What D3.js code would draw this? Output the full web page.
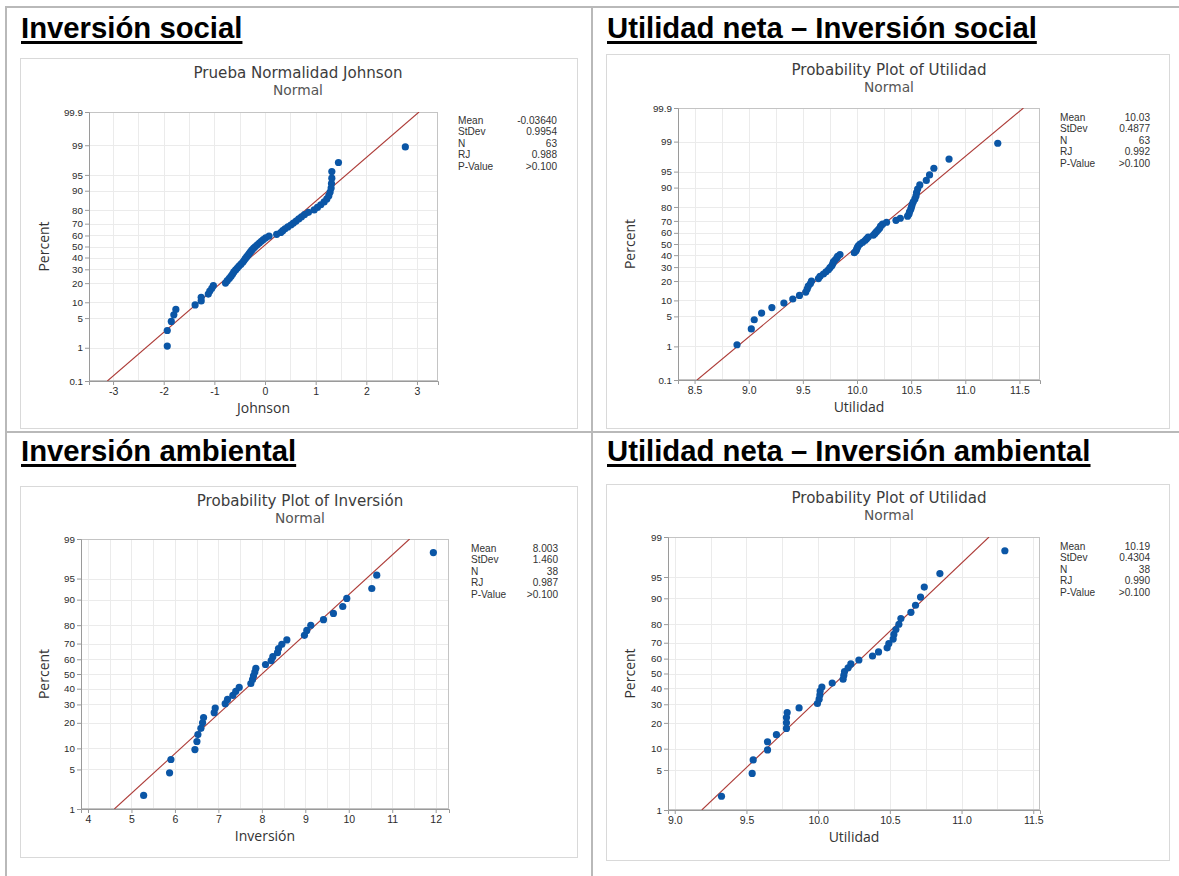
<!DOCTYPE html>
<html>
<head>
<meta charset="utf-8">
<script src="https://cdn.jsdelivr.net/npm/d3@7"></script>
<style>
  body { margin: 0; background: #fff; }
  svg { display: block; }
</style>
</head>
<body>
<svg id="fig" width="1179" height="876"></svg>
<script>
// ---- text ----
const sectionTitles = ["Inversión social", "Utilidad neta – Inversión social", "Inversión ambiental", "Utilidad neta – Inversión ambiental"];
const chartTitles = ["Prueba Normalidad Johnson", "Probability Plot of Utilidad", "Probability Plot of Inversión", "Probability Plot of Utilidad"];
const distributionName = "Normal";
const xAxisLabels = ["Johnson", "Utilidad", "Inversión", "Utilidad"];
const yAxisLabel = "Percent";

// ---- summary statistics shown beside each plot ----
const statLabels = ["Mean", "StDev", "N", "RJ", "P-Value"];
const statsJohnson = ["-0.03640", "0.9954", "63", "0.988", ">0.100"];
const statsUtilidadSocial = ["10.03", "0.4877", "63", "0.992", ">0.100"];
const statsInversion = ["8.003", "1.460", "38", "0.987", ">0.100"];
const statsUtilidadAmbiental = ["10.19", "0.4304", "38", "0.990", ">0.100"];

// ---- tick labels ----
const percentTicksFull = [0.1, 1, 5, 10, 20, 30, 40, 50, 60, 70, 80, 90, 95, 99, 99.9];
const percentTicksShort = [1, 5, 10, 20, 30, 40, 50, 60, 70, 80, 90, 95, 99];
const xTicksJohnson = [-3, -2, -1, 0, 1, 2, 3];
const xTicksUtilidadSocial = [8.5, 9.0, 9.5, 10.0, 10.5, 11.0, 11.5];
const xTicksInversion = [4, 5, 6, 7, 8, 9, 10, 11, 12];
const xTicksUtilidadAmbiental = [9.0, 9.5, 10.0, 10.5, 11.0, 11.5];

// ---- observations ----
const johnsonValues = [-1.93, -1.93, -1.85, -1.80, -1.76, -1.38, -1.26, -1.26, -1.12, -1.09,
  -1.05, -1.02, -0.78, -0.745, -0.705, -0.67, -0.64, -0.615, -0.58, -0.547,
  -0.514, -0.475, -0.44, -0.415, -0.39, -0.363, -0.336, -0.31, -0.284, -0.257,
  -0.224, -0.19, -0.152, -0.112, -0.073, -0.033, 0.013, 0.08, 0.23, 0.31,
  0.35, 0.395, 0.45, 0.51, 0.56, 0.613, 0.666, 0.72, 0.78, 0.857,
  0.97, 1.035, 1.10, 1.167, 1.22, 1.26, 1.285, 1.305, 1.312, 1.319,
  1.319, 1.45, 2.77];
const utilidadSocialValues = [8.892, 9.024, 9.051, 9.119, 9.214, 9.325, 9.407, 9.469, 9.527, 9.54,
  9.55, 9.57, 9.58, 9.644, 9.659, 9.69, 9.714, 9.736, 9.751, 9.767,
  9.776, 9.782, 9.797, 9.813, 9.822, 9.843, 9.975, 9.99, 9.997, 10.003,
  10.012, 10.028, 10.052, 10.074, 10.089, 10.104, 10.15, 10.166, 10.18, 10.196,
  10.21, 10.218, 10.236, 10.273, 10.36, 10.40, 10.467, 10.48, 10.485, 10.496,
  10.503, 10.51, 10.52, 10.535, 10.545, 10.55, 10.56, 10.58, 10.64, 10.67,
  10.71, 10.85, 11.30];
const inversionValues = [5.28, 5.877, 5.908, 6.46, 6.506, 6.529, 6.598, 6.636, 6.659, 6.904,
  6.927, 7.157, 7.21, 7.333, 7.40, 7.479, 7.747, 7.785, 7.808, 7.839,
  7.862, 8.084, 8.215, 8.253, 8.36, 8.383, 8.46, 8.575, 8.98, 9.034,
  9.126, 9.418, 9.647, 9.862, 9.954, 10.53, 10.644, 11.946];
const utilidadAmbientalValues = [9.326, 9.54, 9.547, 9.647, 9.647, 9.709, 9.779, 9.779, 9.779, 9.784,
  9.867, 9.995, 10.007, 10.012, 10.014, 10.026, 10.098, 10.174, 10.179, 10.184,
  10.209, 10.228, 10.284, 10.379, 10.421, 10.481, 10.493, 10.523, 10.528, 10.542,
  10.563, 10.577, 10.647, 10.679, 10.714, 10.74, 10.849, 11.302];

// inverse of the standard normal CDF (Acklam's rational approximation)
function qnorm(p) {
  const a = [-3.969683028665376e+01, 2.209460984245205e+02, -2.759285104469687e+02, 1.383577518672690e+02, -3.066479806614716e+01, 2.506628277459239e+00];
  const b = [-5.447609879822406e+01, 1.615858368580409e+02, -1.556989798598866e+02, 6.680131188771972e+01, -1.328068155288572e+01];
  const c = [-7.784894002430293e-03, -3.223964580411365e-01, -2.400758277161838e+00, -2.549732539343734e+00, 4.374664141464968e+00, 2.938163982698783e+00];
  const d = [7.784695709041462e-03, 3.224671290700398e-01, 2.445134137142996e+00, 3.754408661907416e+00];
  const pl = 0.02425, ph = 1 - pl;
  let q, r;
  if (p < pl) {
    q = Math.sqrt(-2 * Math.log(p));
    return (((((c[0]*q + c[1])*q + c[2])*q + c[3])*q + c[4])*q + c[5]) / ((((d[0]*q + d[1])*q + d[2])*q + d[3])*q + 1);
  }
  if (p > ph) {
    q = Math.sqrt(-2 * Math.log(1 - p));
    return -(((((c[0]*q + c[1])*q + c[2])*q + c[3])*q + c[4])*q + c[5]) / ((((d[0]*q + d[1])*q + d[2])*q + d[3])*q + 1);
  }
  q = p - 0.5; r = q * q;
  return (((((a[0]*r + a[1])*r + a[2])*r + a[3])*r + a[4])*r + a[5])*q / (((((b[0]*r + b[1])*r + b[2])*r + b[3])*r + b[4])*r + 1);
}

// ---- panel geometry ----
const panels = [
  { heading: sectionTitles[0], title: chartTitles[0], xLabel: xAxisLabels[0], values: johnsonValues, stats: statsJohnson,
    pTicks: percentTicksFull, xTicks: xTicksJohnson, xDec: 0, gridStep: 0.5,
    hx: 21, hy: 37.5, frame: [20, 58, 577, 428], plot: [89, 112, 438, 381], xDomain: [-3.475, 3.415],
    tx: 298, ty: 78, st0: 458, st1: 557, stY: 124 },
  { heading: sectionTitles[1], title: chartTitles[1], xLabel: xAxisLabels[1], values: utilidadSocialValues, stats: statsUtilidadSocial,
    pTicks: percentTicksFull, xTicks: xTicksUtilidadSocial, xDec: 1, gridStep: 0.25,
    hx: 607, hy: 37.5, frame: [606, 54, 1169, 428], plot: [678, 108, 1040, 380], xDomain: [8.347, 11.69],
    tx: 889, ty: 75, st0: 1060, st1: 1150, stY: 121 },
  { heading: sectionTitles[2], title: chartTitles[2], xLabel: xAxisLabels[2], values: inversionValues, stats: statsInversion,
    pTicks: percentTicksShort, xTicks: xTicksInversion, xDec: 0, gridStep: 0.5,
    hx: 21, hy: 460.5, frame: [20, 486, 577, 857], plot: [81, 539, 449, 809], xDomain: [3.839, 12.306],
    tx: 300, ty: 506, st0: 471, st1: 558, stY: 552 },
  { heading: sectionTitles[3], title: chartTitles[3], xLabel: xAxisLabels[3], values: utilidadAmbientalValues, stats: statsUtilidadAmbiental,
    pTicks: percentTicksShort, xTicks: xTicksUtilidadAmbiental, xDec: 1, gridStep: 0.25,
    hx: 607, hy: 460.5, frame: [606, 484, 1169, 860], plot: [668, 537, 1040, 810], xDomain: [8.953, 11.547],
    tx: 889, ty: 503, st0: 1060, st1: 1150, stY: 550 }
];

const svg = d3.select("#fig");
const chartFont = "'Open Sans', 'Noto Sans', sans-serif";
const titleFont = "'DejaVu Sans', sans-serif";
const tickFont = "'Liberation Sans', Arial, sans-serif";
const headFont = "'Liberation Sans', Arial, sans-serif";

// ---- table rules ----
const rules = svg.append("g").attr("stroke", "#b9b9b9").attr("stroke-width", 2);
rules.append("line").attr("x1", 5).attr("x2", 1179).attr("y1", 7).attr("y2", 7);
rules.append("line").attr("x1", 5).attr("x2", 1179).attr("y1", 432).attr("y2", 432);
rules.append("line").attr("x1", 6).attr("x2", 6).attr("y1", 6).attr("y2", 876);
rules.append("line").attr("x1", 592).attr("x2", 592).attr("y1", 6).attr("y2", 876);

panels.forEach((P, k) => {
  const g = svg.append("g");

  // section heading, bold and underlined
  const h = g.append("text").attr("x", P.hx).attr("y", P.hy)
    .attr("font-family", headFont).attr("font-weight", "bold").attr("font-size", 29.3)
    .attr("fill", "#000").text(P.heading);
  const hw = h.node().getComputedTextLength();
  g.append("rect").attr("x", P.hx).attr("y", P.hy + 3.5).attr("width", hw).attr("height", 3).attr("fill", "#000");

  // graph frame
  const [fx0, fy0, fx1, fy1] = P.frame;
  g.append("rect").attr("x", fx0 + 0.5).attr("y", fy0 + 0.5).attr("width", fx1 - fx0).attr("height", fy1 - fy0)
    .attr("fill", "#fff").attr("stroke", "#d9d9d9");

  // two-line title: chart name, then distribution
  g.append("text").attr("x", P.tx).attr("y", P.ty).attr("text-anchor", "middle")
    .attr("font-family", titleFont).attr("font-size", 15.1).attr("fill", "#3c3c3c").text(P.title);
  g.append("text").attr("x", P.tx).attr("y", P.ty + 17).attr("text-anchor", "middle")
    .attr("font-family", titleFont).attr("font-size", 13.8).attr("fill", "#555").text(distributionName);

  // scales
  const [px0, py0, px1, py1] = P.plot;
  const pLo = P.pTicks[0] / 100, pHi = P.pTicks[P.pTicks.length - 1] / 100;
  const x = d3.scaleLinear().domain(P.xDomain).range([px0, px1]);
  const y = d3.scaleLinear().domain([qnorm(pLo), qnorm(pHi)]).range([py1, py0]);

  // data region and grid
  g.append("rect").attr("x", px0).attr("y", py0).attr("width", px1 - px0).attr("height", py1 - py0).attr("fill", "#fff");
  const gx = d3.range(Math.ceil(P.xDomain[0] / P.gridStep) * P.gridStep, P.xDomain[1], P.gridStep)
    .filter(v => x(v) > px0 + 1 && x(v) < px1 - 1);
  g.append("g").selectAll("line").data(gx).join("line")
    .attr("x1", d => Math.round(x(d)) + 0.5).attr("x2", d => Math.round(x(d)) + 0.5)
    .attr("y1", py0).attr("y2", py1).attr("stroke", "#ebebeb");
  g.append("g").selectAll("line").data(P.pTicks.slice(1, -1)).join("line")
    .attr("y1", d => Math.round(y(qnorm(d / 100))) + 0.5).attr("y2", d => Math.round(y(qnorm(d / 100))) + 0.5)
    .attr("x1", px0).attr("x2", px1).attr("stroke", "#ebebeb");
  g.append("rect").attr("x", px0 + 0.5).attr("y", py0 + 0.5).attr("width", px1 - px0 - 1).attr("height", py1 - py0 - 1)
    .attr("fill", "none").attr("stroke", "#c4c4c4");

  // axes
  const yAxis = d3.axisLeft(y).tickValues(P.pTicks.map(p => qnorm(p / 100)))
    .tickFormat((d, i) => String(P.pTicks[i])).tickSize(4).tickPadding(2);
  const ya = g.append("g").attr("transform", `translate(${px0},0)`).call(yAxis);
  const xAxis = d3.axisBottom(x).tickValues(P.xTicks)
    .tickFormat(d => d.toFixed(P.xDec)).tickSize(4).tickPadding(3);
  const xa = g.append("g").attr("transform", `translate(0,${py1})`).call(xAxis);
  [ya, xa].forEach(a => {
    a.select(".domain").attr("stroke", "#9a9a9a");
    a.selectAll(".tick line").attr("stroke", "#9a9a9a");
    a.selectAll(".tick text").attr("font-family", tickFont).attr("fill", "#2b2b2b");
  });
  ya.selectAll(".tick text").attr("font-size", 9.8);
  xa.selectAll(".tick text").attr("font-size", 10.5);

  // axis titles
  g.append("text").attr("x", (px0 + px1) / 2).attr("y", py1 + 32).attr("text-anchor", "middle")
    .attr("font-family", chartFont).attr("font-size", 14).attr("fill", "#333").text(P.xLabel);
  g.append("text").attr("transform", `translate(${fx0 + 29},${(py0 + py1) / 2}) rotate(-90)`)
    .attr("text-anchor", "middle").attr("font-family", chartFont).attr("font-size", 14).attr("fill", "#333").text(yAxisLabel);

  // fitted normal line from the reported mean and standard deviation
  const mu = parseFloat(P.stats[0]), sd = parseFloat(P.stats[1]);
  const zLine = y.domain();
  const clip = `clip${k}`;
  g.append("clipPath").attr("id", clip).append("rect")
    .attr("x", px0).attr("y", py0).attr("width", px1 - px0).attr("height", py1 - py0);
  g.append("line").attr("clip-path", `url(#${clip})`)
    .attr("x1", x(mu + sd * zLine[0])).attr("y1", y(zLine[0]))
    .attr("x2", x(mu + sd * zLine[1])).attr("y2", y(zLine[1]))
    .attr("stroke", "#ad3c38").attr("stroke-width", 1.1);

  // observations at median-rank plotting positions
  const sorted = d3.sort(P.values);
  const n = sorted.length;
  g.append("g").selectAll("circle").data(sorted).join("circle")
    .attr("cx", d => x(d))
    .attr("cy", (d, i) => y(qnorm((i + 1 - 0.3) / (n + 0.4))))
    .attr("r", 3.6).attr("fill", "#0b56a6");

  // statistics table
  const st = g.append("g").attr("font-family", tickFont).attr("font-size", 10.1).attr("fill", "#333");
  statLabels.forEach((lab, i) => {
    st.append("text").attr("x", P.st0).attr("y", P.stY + i * 11.4).text(lab);
    st.append("text").attr("x", P.st1).attr("y", P.stY + i * 11.4).attr("text-anchor", "end").text(P.stats[i]);
  });
});
</script>
</body>
</html>
